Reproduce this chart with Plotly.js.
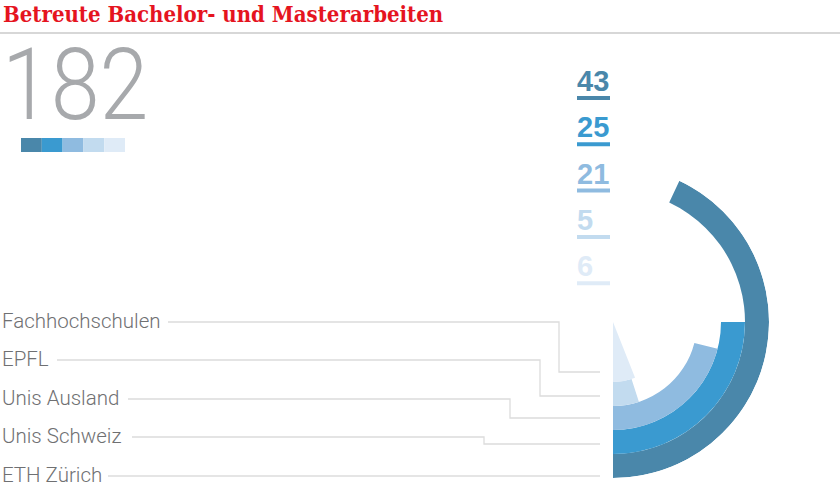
<!DOCTYPE html>
<html><head><meta charset="utf-8">
<script src="https://cdn.plot.ly/plotly-3.0.1.min.js"></script>
<style>html,body{margin:0;padding:0;background:#fff}#chart{width:840px;height:486px}
.bigtotal{transform:scaleX(0.88);transform-box:fill-box;transform-origin:left center}</style>
</head><body><div id="chart"></div>
<script>
// ---- data ----
const categories = ["ETH Zürich", "Unis Schweiz", "Unis Ausland", "EPFL", "Fachhochschulen"];
const values = [43, 25, 21, 5, 6];
const total = 182;
const titleText = "Betreute Bachelor- und Masterarbeiten";

// ---- styles ----
const colors = ["#4a87aa", "#3a9ad0", "#8fbbe0", "#c2dbef", "#dfebf7"];
const W = 840, H = 486;
const px = x => x / W;
const py = y => 1 - y / H;

// angular share: values are percentages of the total, full circle = 100
const sum = values.reduce((a, b) => a + b, 0);
const widths = values.map(v => v / sum * 360);
const thetas = widths.map(w => w / 2);
const bases = categories.map((c, i) => i === categories.length - 1 ? 0 : 5.5 - i);
const thick = categories.map((c, i) => i === categories.length - 1 ? 2.5 : 1);

const trace = {
  type: "barpolar",
  r: thick,
  base: bases,
  theta: thetas,
  width: widths,
  text: categories,
  marker: {color: colors, line: {width: 0}},
  hoverinfo: "text"
};

// leader line geometry (label row, elbow x, end y), order bottom (ETH) to top (FH)
const labelY = [476, 437, 399, 360, 322];
const lineStartX = [108, 132, 128, 57, 168];
const elbowX = [null, 484, 510, 540, 559];
const endY = [476, 444, 418, 396, 372];

const shapes = [];
const annotations = [];

// title + rule
annotations.push({xref: "paper", yref: "paper", x: px(1), y: py(14), xanchor: "left", yanchor: "middle",
  text: "<b>" + titleText + "</b>", showarrow: false,
  font: {family: "DejaVu Serif Condensed", size: 22, color: "#e5141f"}});
shapes.push({type: "line", xref: "paper", yref: "paper", x0: 0, x1: 1, y0: py(33), y1: py(33),
  line: {color: "#b0b0b0", width: 1.2}});

// big total
annotations.push({xref: "paper", yref: "paper", x: px(0), y: py(84), xanchor: "left", yanchor: "middle",
  text: String(total), showarrow: false,
  font: {family: "Roboto", size: 100, color: "#a7a9ac", weight: 300}});

// colour strip
colors.forEach((c, i) => {
  shapes.push({type: "rect", xref: "paper", yref: "paper",
    x0: px(21 + i * 20.8), x1: px(21 + (i + 1) * 20.8), y0: py(152), y1: py(138),
    fillcolor: c, line: {width: 0}});
});

// value column
values.forEach((v, i) => {
  annotations.push({xref: "paper", yref: "paper", x: px(575), y: py(81 + i * 46.3), xanchor: "left", yanchor: "middle",
    text: "<b>" + v + "</b>", showarrow: false,
    font: {family: "Liberation Sans", size: 29, color: colors[i]}});
  shapes.push({type: "rect", xref: "paper", yref: "paper",
    x0: px(577), x1: px(610), y0: py(100 + i * 46.3), y1: py(96 + i * 46.3),
    fillcolor: colors[i], line: {width: 0}});
});

// labels + leader lines
categories.forEach((c, i) => {
  annotations.push({xref: "paper", yref: "paper", x: px(0), y: py(labelY[i] - 1), xanchor: "left", yanchor: "middle",
    text: c, showarrow: false,
    font: {family: "Roboto", size: 20.5, color: "#6f7072", weight: 300}});
  const lc = {color: "#dcdcdc", width: 1.3};
  if (elbowX[i] === null) {
    shapes.push({type: "line", xref: "paper", yref: "paper", x0: px(lineStartX[i]), x1: px(600), y0: py(labelY[i]), y1: py(labelY[i]), line: lc});
  } else {
    shapes.push({type: "path", xref: "paper", yref: "paper",
      path: `M ${px(lineStartX[i])} ${py(labelY[i])} L ${px(elbowX[i])} ${py(labelY[i])} L ${px(elbowX[i])} ${py(endY[i])} L ${px(600)} ${py(endY[i])}`,
      line: lc});
  }
});

const layout = {
  width: W, height: H,
  margin: {l: 0, r: 0, t: 0, b: 0},
  paper_bgcolor: "#fff",
  showlegend: false,
  polar: {
    domain: {x: [px(613 - 156), px(613 + 156)], y: [py(322 + 156), py(322 - 156)]},
    bgcolor: "rgba(0,0,0,0)",
    radialaxis: {range: [0, 6.5], visible: false, showgrid: false},
    angularaxis: {rotation: -90, direction: "counterclockwise", visible: false, showgrid: false, showline: false, ticks: ""},
    bargap: 0
  },
  shapes: shapes,
  annotations: annotations
};

Plotly.newPlot("chart", [trace], layout, {displayModeBar: false, staticPlot: true}).then(() => {
  document.querySelectorAll(".annotation-text").forEach(t => {
    if (t.textContent === String(total)) t.classList.add("bigtotal");
  });
});
</script>
</body></html>
